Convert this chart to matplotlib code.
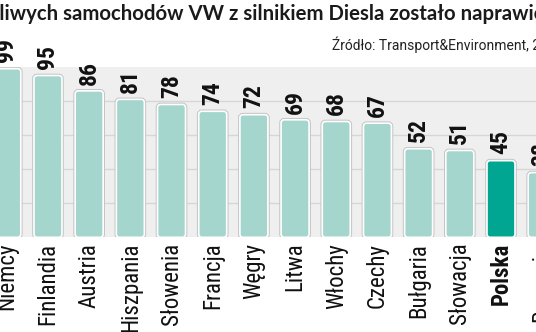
import matplotlib
matplotlib.use("Agg")
import matplotlib.pyplot as plt
import matplotlib.patheffects as pe
from matplotlib import font_manager as fm
from matplotlib.font_manager import FontProperties
from matplotlib.patches import FancyBboxPatch

# share of faulty VW diesel cars that have been fixed, per country (%)
countries = ["Niemcy", "Finlandia", "Austria", "Hiszpania", "Słowenia", "Francja", "Węgry",
             "Litwa", "Włochy", "Czechy", "Bułgaria", "Słowacja", "Polska", "Rumunia"]
fixed_pct = [99, 95, 86, 81, 78, 74, 72, 69, 68, 67, 52, 51, 45, 38]
highlight = "Polska"

title = "Ile wadliwych samochodów VW z silnikiem Diesla zostało naprawionych (w proc.)"
source = "Źródło: Transport&Environment, 2018"

LIGHT = "#a4d6ce"
DARK = "#00a692"


def _weight(f):
    w = f.weight
    if isinstance(w, str):
        w = fm.weight_dict.get(w, 400)
    return int(w)


def narrow_font(bold):
    # a condensed upright face, Roboto first, DejaVu last
    order = ["roboto", "liberation", "noto", "open", "lato"]
    found = []
    for f in fm.fontManager.ttflist:
        p = f.fname.lower()
        if not ("condensed" in p or "narrow" in p):
            continue
        if any(k in p for k in ("semi", "extra", "ultra", "italic", "oblique", "light", "thin", "black", "medium")):
            continue
        if f.style != "normal":
            continue
        if (_weight(f) >= 600) != bold:
            continue
        rank = next((i for i, k in enumerate(order) if k in f.name.lower()), len(order))
        found.append((rank, f.fname))
    if found:
        return FontProperties(fname=sorted(found)[0][1]), True
    return FontProperties(family=["Roboto", "DejaVu Sans"], weight="bold" if bold else "normal"), False


label_fp, label_narrow = narrow_font(False)
label_bold_fp, bold_narrow = narrow_font(True)
value_fp, value_narrow = narrow_font(True)
label_fp.set_size(16.5 if label_narrow else 14.3)
label_bold_fp.set_size(16.5 if bold_narrow else 14.3)
value_fp.set_size(17 if value_narrow else 16)

W, H, DPI = 536, 332, 100
fig = plt.figure(figsize=(W / DPI, H / DPI), dpi=DPI)
fig.patch.set_facecolor("white")

ax_bottom, ax_top = 237.3, 67.0
ax = fig.add_axes([0, 1 - ax_bottom / H, 1, (ax_bottom - ax_top) / H])
ax.set_facecolor("#efefef")
xlim = (-0.165, 12.85)
ax.set_xlim(*xlim)
ax.set_ylim(0, 100)
ax.set_yticks([20, 40, 60, 80])
ax.grid(axis="y", color="#d6d6d6", linewidth=1)
ax.set_axisbelow(True)
ax.tick_params(left=False, bottom=False, labelleft=False, labelbottom=False)
for s in ax.spines.values():
    s.set_visible(False)

# rounded bars: the radius has to be the same in pixels on both axes
px_x = W / (xlim[1] - xlim[0])
px_y = (ax_bottom - ax_top) / 100
aspect = px_x / px_y

colors = [DARK if c == highlight else LIGHT for c in countries]
bars = ax.bar(range(len(countries)), fixed_pct, width=0.68, color=colors)
for b in bars:
    fb = FancyBboxPatch((b.get_x(), b.get_y()), b.get_width(), b.get_height(),
                        boxstyle="round,pad=0,rounding_size=0.075",
                        mutation_aspect=aspect, facecolor=b.get_facecolor(),
                        edgecolor="white", linewidth=1.2, zorder=3)
    fb.set_path_effects([pe.Stroke(linewidth=2.6, foreground="#c4c4c4"), pe.Normal()])
    b.remove()
    ax.add_patch(fb)

for i, (c, v) in enumerate(zip(countries, fixed_pct)):
    ax.annotate(str(v), (i, v), xytext=(0, 4.5), textcoords="offset points",
                rotation=90, ha="center", va="bottom", fontproperties=value_fp,
                color="#111111", annotation_clip=False)
    ax.annotate(c, (i, 0), xytext=(0, -4), textcoords="offset points",
                rotation=90, ha="center", va="top",
                fontproperties=label_bold_fp if c == highlight else label_fp,
                color="#111111", annotation_clip=False)

# title runs past both edges of the figure; place it by the start of "samochodów"
title_font = dict(fontsize=14.7, fontweight="bold", family=["Lato", "DejaVu Sans"])
renderer = fig.canvas.get_renderer()
probe = fig.text(0, 0, "Ile wadliwych ", **title_font)
shift = probe.get_window_extent(renderer).width
probe.remove()
fig.text((63 - shift) / W, 1 - 20 / H, title, color="#1a1a1a", va="baseline",
         ha="left", **title_font)

fig.text(332 / W, 1 - 50 / H, source, fontsize=10, family=["Roboto", "DejaVu Sans"],
         color="#222222", va="baseline", ha="left")

fig.savefig("out.png", dpi=DPI)
